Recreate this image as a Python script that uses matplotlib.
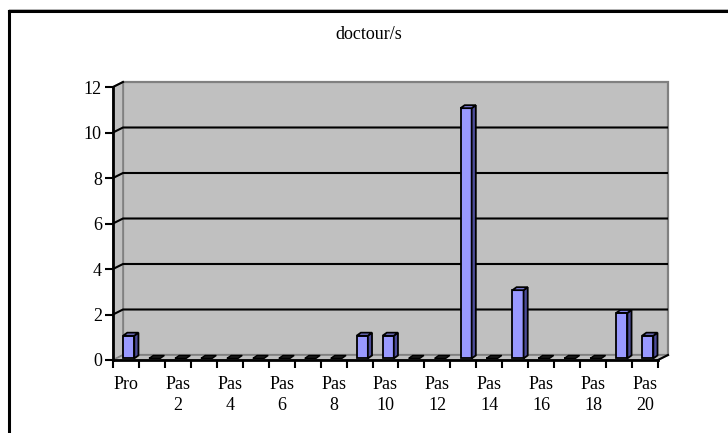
import matplotlib
matplotlib.use('Agg')
import matplotlib.pyplot as plt
from matplotlib.patches import Polygon
from matplotlib.lines import Line2D
import numpy as np

# ---- data ----
categories = ["Pro"] + [f"Pas {i}" for i in range(1, 21)]
values = [1, 0, 0, 0, 0, 0, 0, 0, 0, 1, 1, 0, 0, 11, 0, 3, 0, 0, 0, 2, 1]
tick_labels = ["Pro"] + [(f"Pas\n{i}" if i % 2 == 0 else "") for i in range(1, 21)]
title = "doctour/s"
yticks = [0, 2, 4, 6, 8, 10, 12]

plt.rcParams['font.family'] = ['Liberation Serif', 'DejaVu Serif']

W, H = 728, 433
fig = plt.figure(figsize=(W / 100, H / 100), dpi=100)

n = len(categories)
DX, DY = 0.385, 0.22          # wall depth (data units)
ymax = yticks[-1]
x_left_px, x_right_px = 113, 668
y_bot_px, y_top_px = 360, 82
ax = fig.add_axes([x_left_px / W, (H - y_bot_px) / H,
                   (x_right_px - x_left_px) / W, (y_bot_px - y_top_px) / H])
ax.set_xlim(-0.5, n - 0.5 + DX)
ax.set_ylim(0, ymax + DY)
for s in ax.spines.values():
    s.set_visible(False)
ax.patch.set_alpha(0)

x0, x1 = -0.5, n - 0.5
wall = '#c0c0c0'
edge = '#808080'
# back wall
ax.add_patch(Polygon([(x0 + DX, DY), (x1 + DX, DY), (x1 + DX, ymax + DY), (x0 + DX, ymax + DY)],
                     closed=True, facecolor=wall, edgecolor=edge, lw=1.6, zorder=1, clip_on=False))
# side wall
ax.add_patch(Polygon([(x0, 0), (x0 + DX, DY), (x0 + DX, ymax + DY), (x0, ymax)],
                     closed=True, facecolor=wall, edgecolor=edge, lw=1.2, zorder=1, clip_on=False))
# floor
ax.add_patch(Polygon([(x0, 0), (x1, 0), (x1 + DX, DY), (x0 + DX, DY)],
                     closed=True, facecolor=wall, edgecolor=edge, lw=1.2, zorder=1, clip_on=False))

# gridlines
for k in yticks[1:-1]:
    ax.plot([x0, x0 + DX, x1 + DX], [k, k + DY, k + DY], color='black', lw=1.5, zorder=2,
            clip_on=False, solid_capstyle='butt')
ax.plot([x0, x0 + DX], [ymax, ymax + DY], color='black', lw=1.5, zorder=2, clip_on=False)

# bars
xs = np.arange(n)
bw, off = 0.43, -0.11
yb = 0.07
sdx, sdy = 0.16, 0.13
lefts = xs + off
ax.bar(lefts, values, width=bw, bottom=yb, align='edge', color='#9999ff',
       edgecolor='black', lw=1.3, zorder=4)
for l, v in zip(lefts, values):
    top = v + yb
    if v > 0:
        ax.add_patch(Polygon([(l + bw, yb), (l + bw + sdx, yb + sdy), (l + bw + sdx, top + sdy), (l + bw, top)],
                             closed=True, facecolor='#4c4c99', edgecolor='black', lw=1.3, zorder=4))
        ax.add_patch(Polygon([(l, top), (l + bw, top), (l + bw + sdx, top + sdy), (l + sdx, top + sdy)],
                             closed=True, facecolor='#8080e0', edgecolor='black', lw=1.3, zorder=4))
    else:
        ax.add_patch(Polygon([(l, top), (l + bw, top), (l + bw + sdx, top + sdy), (l + sdx, top + sdy)],
                             closed=True, facecolor='#1a1a1a', edgecolor='black', lw=1.0, zorder=4))

# axis lines
ax.plot([x0, x0], [0, ymax], color='black', lw=2, zorder=6, clip_on=False)
ax.plot([x0, x1], [0, 0], color='black', lw=2, zorder=6, clip_on=False)
ax.plot([x1, x1 + DX], [0, DY], color='black', lw=1.5, zorder=6, clip_on=False)

# ticks
ax.set_yticks(yticks)
ax.set_yticklabels([str(t) for t in yticks])
ax.tick_params(axis='y', direction='out', length=6, width=1.5, pad=2, labelsize=13)
ax.set_xticks(xs)
ax.set_xticklabels(tick_labels, linespacing=1.28)
ax.set_xticks(np.arange(n + 1) - 0.5, minor=True)
ax.tick_params(axis='x', which='major', length=0, pad=11.5, labelsize=13)
ax.tick_params(axis='x', which='minor', direction='out', length=6, width=1.5)

# title
fig.text(369 / W, 1 - 39 / H, title, ha='center', va='baseline', fontsize=13)

# outer frame (top and left only)
fig.add_artist(Line2D([8.5 / W, 1], [1 - 11 / H, 1 - 11 / H], color='black', lw=2.2,
                      transform=fig.transFigure))
fig.add_artist(Line2D([8.5 / W, 8.5 / W], [0, 1 - 11 / H], color='black', lw=2.2,
                      transform=fig.transFigure))
fig.add_artist(Line2D([8.5 / W, 1], [1 - 8.7 / H, 1 - 8.7 / H], color='#b0b0b0', lw=0.7,
                      transform=fig.transFigure))

fig.savefig('out.png', dpi=100)
